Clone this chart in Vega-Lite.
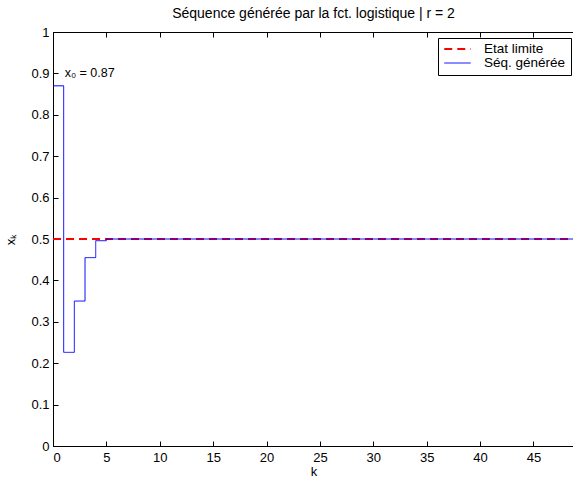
{
  "$schema": "https://vega.github.io/schema/vega-lite/v6.json",
  "autosize": {"type": "none"},
  "padding": {"left": 53, "top": 32, "right": 0, "bottom": 34},
  "width": 521,
  "height": 414,
  "title": {"text": "Séquence générée par la fct. logistique | r = 2", "offset": 5},
  "datasets": {
    "seq": [
      {"k": 0, "x": 0.87, "serie": "Séq. générée"},
      {"k": 1, "x": 0.2262, "serie": "Séq. générée"},
      {"k": 2, "x": 0.3501, "serie": "Séq. générée"},
      {"k": 3, "x": 0.455, "serie": "Séq. générée"},
      {"k": 4, "x": 0.4959, "serie": "Séq. générée"},
      {"k": 5, "x": 0.49997, "serie": "Séq. générée"},
      {"k": 6, "x": 0.5, "serie": "Séq. générée"},
      {"k": 7, "x": 0.5, "serie": "Séq. générée"},
      {"k": 8, "x": 0.5, "serie": "Séq. générée"},
      {"k": 9, "x": 0.5, "serie": "Séq. générée"},
      {"k": 10, "x": 0.5, "serie": "Séq. générée"},
      {"k": 11, "x": 0.5, "serie": "Séq. générée"},
      {"k": 12, "x": 0.5, "serie": "Séq. générée"},
      {"k": 13, "x": 0.5, "serie": "Séq. générée"},
      {"k": 14, "x": 0.5, "serie": "Séq. générée"},
      {"k": 15, "x": 0.5, "serie": "Séq. générée"},
      {"k": 16, "x": 0.5, "serie": "Séq. générée"},
      {"k": 17, "x": 0.5, "serie": "Séq. générée"},
      {"k": 18, "x": 0.5, "serie": "Séq. générée"},
      {"k": 19, "x": 0.5, "serie": "Séq. générée"},
      {"k": 20, "x": 0.5, "serie": "Séq. générée"},
      {"k": 21, "x": 0.5, "serie": "Séq. générée"},
      {"k": 22, "x": 0.5, "serie": "Séq. générée"},
      {"k": 23, "x": 0.5, "serie": "Séq. générée"},
      {"k": 24, "x": 0.5, "serie": "Séq. générée"},
      {"k": 25, "x": 0.5, "serie": "Séq. générée"},
      {"k": 26, "x": 0.5, "serie": "Séq. générée"},
      {"k": 27, "x": 0.5, "serie": "Séq. générée"},
      {"k": 28, "x": 0.5, "serie": "Séq. générée"},
      {"k": 29, "x": 0.5, "serie": "Séq. générée"},
      {"k": 30, "x": 0.5, "serie": "Séq. générée"},
      {"k": 31, "x": 0.5, "serie": "Séq. générée"},
      {"k": 32, "x": 0.5, "serie": "Séq. générée"},
      {"k": 33, "x": 0.5, "serie": "Séq. générée"},
      {"k": 34, "x": 0.5, "serie": "Séq. générée"},
      {"k": 35, "x": 0.5, "serie": "Séq. générée"},
      {"k": 36, "x": 0.5, "serie": "Séq. générée"},
      {"k": 37, "x": 0.5, "serie": "Séq. générée"},
      {"k": 38, "x": 0.5, "serie": "Séq. générée"},
      {"k": 39, "x": 0.5, "serie": "Séq. générée"},
      {"k": 40, "x": 0.5, "serie": "Séq. générée"},
      {"k": 41, "x": 0.5, "serie": "Séq. générée"},
      {"k": 42, "x": 0.5, "serie": "Séq. générée"},
      {"k": 43, "x": 0.5, "serie": "Séq. générée"},
      {"k": 44, "x": 0.5, "serie": "Séq. générée"},
      {"k": 45, "x": 0.5, "serie": "Séq. générée"},
      {"k": 46, "x": 0.5, "serie": "Séq. générée"},
      {"k": 47, "x": 0.5, "serie": "Séq. générée"},
      {"k": 48, "x": 0.5, "serie": "Séq. générée"},
      {"k": 49, "x": 0.5, "serie": "Séq. générée"}
    ],
    "limite": [
      {"k": 0, "x": 0.5, "serie": "Etat limite"},
      {"k": 49, "x": 0.5, "serie": "Etat limite"}
    ],
    "annot": [
      {"k": 1, "x": 0.9, "label": "x₀ = 0.87"}
    ]
  },
  "layer": [
    {
      "data": {"name": "limite"},
      "mark": {"type": "line", "clip": true},
      "encoding": {
        "x": {"field": "k", "type": "quantitative", "scale": {"domain": [0, 48.8], "nice": false, "zero": false},
              "axis": {"orient": "top", "labels": false, "title": null, "values": [0,5,10,15,20,25,30,35,40,45], "tickSize": -5, "domain": false}},
        "y": {"field": "x", "type": "quantitative", "scale": {"domain": [0, 1], "nice": false}, "title": "xₖ",
              "axis": {"values": [0,0.1,0.2,0.3,0.4,0.5,0.6,0.7,0.8,0.9,1], "format": ".1~f", "tickSize": -5, "labelPadding": 9, "titlePadding": 13}},
        "color": {"field": "serie", "type": "nominal", "scale": {"domain": ["Etat limite", "Séq. générée"], "range": ["#ff0000", "#0000ff"]}, "title": null},
        "strokeDash": {"field": "serie", "type": "nominal", "scale": {"domain": ["Etat limite", "Séq. générée"], "range": [[8, 5], [1, 0]]}, "title": null},
        "strokeWidth": {"field": "serie", "type": "nominal", "scale": {"domain": ["Etat limite", "Séq. générée"], "range": [2, 1]}, "title": null}
      }
    },
    {
      "data": {"name": "seq"},
      "mark": {"type": "line", "interpolate": "step-after", "clip": true},
      "encoding": {
        "x": {"field": "k", "type": "quantitative", "title": "k",
              "axis": {"values": [0,5,10,15,20,25,30,35,40,45], "tickSize": -5, "labelPadding": 10, "titlePadding": 1}},
        "y": {"field": "x", "type": "quantitative"},
        "color": {"field": "serie", "type": "nominal"},
        "strokeDash": {"field": "serie", "type": "nominal"},
        "strokeWidth": {"field": "serie", "type": "nominal"}
      }
    },
    {
      "data": {"name": "annot"},
      "mark": {"type": "text", "align": "left", "baseline": "middle", "dx": 1, "fontSize": 12.5, "font": "Liberation Sans", "color": "black"},
      "encoding": {
        "x": {"field": "k", "type": "quantitative", "axis": null},
        "y": {"field": "x", "type": "quantitative"},
        "text": {"field": "label", "type": "nominal"}
      }
    }
  ],
  "resolve": {"axis": {"x": "independent"}},
  "config": {
    "font": "Liberation Sans",
    "view": {"stroke": "black", "strokeWidth": 1},
    "title": {"fontSize": 14, "fontWeight": "normal", "color": "black", "font": "Liberation Sans"},
    "axis": {
      "grid": false,
      "domainColor": "black",
      "tickColor": "black",
      "labelColor": "black",
      "titleColor": "black",
      "labelFontSize": 13,
      "titleFontSize": 13,
      "titleFontWeight": "normal",
      "labelFont": "Liberation Sans",
      "titleFont": "Liberation Sans"
    },
    "legend": {
      "orient": "none",
      "legendX": 385,
      "legendY": 6,
      "strokeColor": "black",
      "fillColor": "white",
      "padding": 5,
      "labelFontSize": 13.5,
      "labelFont": "Liberation Sans",
      "labelColor": "black",
      "symbolSize": 700,
      "symbolType": "stroke",
      "rowPadding": 0,
      "clipHeight": 12,
      "labelOffset": 12
    }
  }
}
